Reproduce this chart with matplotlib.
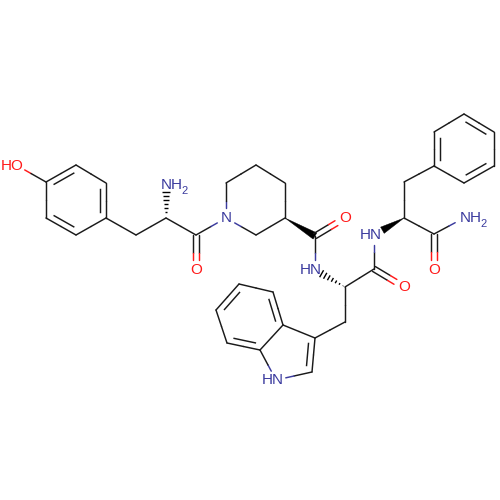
import matplotlib
matplotlib.use('Agg')
import numpy as np
import matplotlib.pyplot as plt

BLACK = '#1a1a1a'
BLUE = '#3b3b9e'
RED = '#ff1a1a'

# atom positions (y runs downwards)
atom_names = ['O1', 'T1', 'T2', 'T3', 'T4', 'T5', 'T6', 'TB', 'TA', 'TN', 'TC', 'TO',
              'PN', 'P2', 'P3', 'P4', 'P5', 'P6', 'PC', 'PO',
              'WN', 'WA', 'WC', 'WO', 'WB', 'W3', 'W2', 'W1', 'W7a', 'W3a',
              'W4', 'W5', 'W6', 'W7',
              'FN', 'FA', 'FB', 'F1', 'F2', 'F3', 'F4', 'F5', 'F6', 'FC', 'FO', 'FN2']
atom_x = [16, 46, 76, 106, 106, 76, 46, 136, 166, 166, 196, 196,
          226, 226, 256, 285, 285, 256, 315, 345,
          315, 345, 374, 404, 345, 315, 312, 276, 260, 283,
          273, 239, 216, 227,
          374, 404, 404, 434, 434, 464, 494, 494, 464, 434, 434, 464]
atom_y = [165, 182, 165, 183, 218, 235, 218, 235, 218, 185, 235, 270,
          218, 183, 165, 183, 218, 235, 236, 218,
          270, 287, 269, 287, 322, 338, 372, 380, 350, 325,
          292, 284, 310, 343,
          235, 218, 182, 166, 132, 114, 132, 166, 183, 234, 270, 218]

single_bonds = [('O1', 'T1'), ('T2', 'T3'), ('T4', 'T5'), ('T6', 'T1'), ('T4', 'TB'), ('TB', 'TA'),
                ('TA', 'TC'), ('TC', 'PN'), ('PN', 'P2'), ('P2', 'P3'), ('P3', 'P4'), ('P4', 'P5'),
                ('P5', 'P6'), ('P6', 'PN'), ('PC', 'WN'), ('WA', 'WC'), ('WC', 'FN'), ('WA', 'WB'),
                ('WB', 'W3'), ('W3', 'W3a'), ('W2', 'W1'), ('W1', 'W7a'), ('W7a', 'W3a'),
                ('W4', 'W5'), ('W6', 'W7'), ('FA', 'FB'), ('FB', 'F1'), ('F2', 'F3'), ('F4', 'F5'),
                ('F6', 'F1'), ('FA', 'FC'), ('FC', 'FN2')]
ring_doubles = [('T1', 'T2', 'T3'), ('T3', 'T4', 'T5'), ('T5', 'T6', 'T1'),
                ('F1', 'F2', 'F3'), ('F3', 'F4', 'F5'), ('F5', 'F6', 'F1'),
                ('W5', 'W6', 'W4'), ('W3a', 'W4', 'W6'), ('W7', 'W7a', 'W5'),
                ('W3', 'W2', 'W1')]
carbonyls = [('TC', 'TO'), ('PC', 'PO'), ('WC', 'WO'), ('FC', 'FO')]
wedges = [('P5', 'PC', 1.0), ('FA', 'FN', 0.72)]
hashes = [('TA', 'TN', 0.78), ('WA', 'WN', 0.78)]

label_texts = ['HO', 'NH', 'O', 'N', 'O', 'HN', 'O', 'HN', 'HN', 'O', 'NH']
label_x = [1, 161, 196, 226, 345, 300, 404, 360, 262, 434, 460]
label_y = [166, 185, 270, 218, 218, 270, 287, 235, 380, 270, 218]
label_align = ['left', 'left', 'center', 'center', 'center', 'left', 'center', 'left', 'left', 'center', 'left']
label_colors = [RED, BLUE, RED, BLUE, RED, BLUE, RED, BLUE, BLUE, RED, BLUE]
sub_x = [181.5, 480.5]
sub_y = [191, 224]

trim = {'O1': 10, 'TN': 0, 'TO': 10, 'PN': 10, 'PO': 10, 'WN': 10, 'WO': 10, 'W1': 10,
        'FN': 10, 'FO': 10, 'FN2': 10}
hetero_color = {'O1': RED, 'TO': RED, 'PO': RED, 'WO': RED, 'FO': RED,
                'PN': BLUE, 'WN': BLUE, 'W1': BLUE, 'FN': BLUE, 'FN2': BLUE}

pos = {n: np.array([x, y], dtype=float) for n, x, y in zip(atom_names, atom_x, atom_y)}
LW = 1.05


def draw_bond(ax, a, b, p, q):
    # split in two halves so hetero atoms get their own colour
    d = (q - p) / np.linalg.norm(q - p)
    start = p + d * trim.get(a, 0)
    end = q - d * trim.get(b, 0)
    mid = (p + q) / 2
    ax.plot([start[0], mid[0]], [start[1], mid[1]], color=hetero_color.get(a, BLACK), lw=LW, solid_capstyle='round')
    ax.plot([mid[0], end[0]], [mid[1], end[1]], color=hetero_color.get(b, BLACK), lw=LW, solid_capstyle='round')


fig = plt.figure(figsize=(5, 5), dpi=100)
ax = fig.add_axes([0, 0, 1, 1])
ax.set_xlim(0, 500)
ax.set_ylim(500, 0)
ax.axis('off')

for a, b in single_bonds:
    draw_bond(ax, a, b, pos[a], pos[b])

for a, b, c in ring_doubles:
    p, q = pos[a], pos[b]
    draw_bond(ax, a, b, p, q)
    # inner line sits on the side of the third atom
    d = (q - p) / np.linalg.norm(q - p)
    n = np.array([-d[1], d[0]])
    if np.dot(pos[c] - p, n) < 0:
        n = -n
    s = p + n * 6 + d * 6
    e = q + n * 6 - d * 6
    ax.plot([s[0], e[0]], [s[1], e[1]], color=BLACK, lw=LW)

for a, b in carbonyls:
    p, q = pos[a], pos[b]
    d = (q - p) / np.linalg.norm(q - p)
    n = np.array([-d[1], d[0]])
    for side in (-2.8, 2.8):
        draw_bond(ax, a, b, p + n * side, q + n * side)

for a, b, frac in wedges:
    p = pos[a]
    q = p + (pos[b] - p) * frac
    d = (q - p) / np.linalg.norm(q - p)
    n = np.array([-d[1], d[0]])
    tri = np.array([p, q + n * 3.6, q - n * 3.6])
    ax.fill(tri[:, 0], tri[:, 1], color='black', lw=0.3)

for a, b, frac in hashes:
    p = pos[a]
    q = p + (pos[b] - p) * frac
    d = (q - p) / np.linalg.norm(q - p)
    n = np.array([-d[1], d[0]])
    for t in np.linspace(0.08, 1.0, 7):
        m = p + (q - p) * t
        w = 4.0 * t
        ax.plot([m[0] - n[0] * w, m[0] + n[0] * w], [m[1] - n[1] * w, m[1] + n[1] * w],
                color='black', lw=1.0, solid_capstyle='butt')

for txt, x, y, al, col in zip(label_texts, label_x, label_y, label_align, label_colors):
    ax.text(x, y, txt, ha=al, va='center', color=col, fontsize=11,
            family='Liberation Sans')
for x, y in zip(sub_x, sub_y):
    ax.text(x, y, '2', ha='left', va='center', color=BLUE, fontsize=8, family='Liberation Sans')

fig.savefig('out.png', dpi=100, facecolor='white')
plt.close(fig)
